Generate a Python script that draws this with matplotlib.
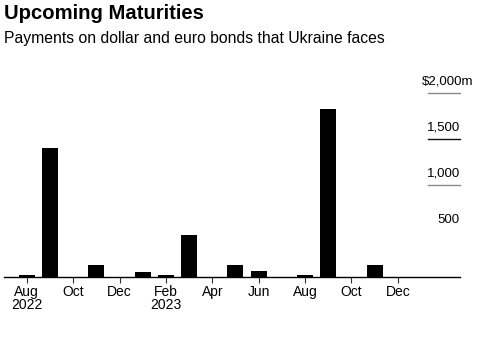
import matplotlib
matplotlib.use("Agg")
import matplotlib.pyplot as plt
import matplotlib.transforms as mtransforms

# monthly payments, Aug 2022 .. Dec 2023 ($m)
months = ["Aug 2022", "Sep 2022", "Oct 2022", "Nov 2022", "Dec 2022",
          "Jan 2023", "Feb 2023", "Mar 2023", "Apr 2023", "May 2023",
          "Jun 2023", "Jul 2023", "Aug 2023", "Sep 2023", "Oct 2023",
          "Nov 2023", "Dec 2023"]
payments = [25, 1400, 0, 130, 0, 50, 25, 460, 0, 130, 65, 0, 25, 1820, 0, 130, 0]

tick_pos = [0, 2, 4, 6, 8, 10, 12, 14, 16]
tick_labels = ["Aug\n2022", "Oct", "Dec", "Feb\n2023", "Apr", "Jun", "Aug", "Oct", "Dec"]
grid_vals = [1000, 1500, 2000]
grid_colors = ["#8a8a8a", "#111111", "#8a8a8a"]
ylabels = {500: "500", 1000: "1,000", 1500: "1,500"}

plt.rcParams["font.family"] = ["Liberation Sans", "DejaVu Sans"]

W, H = 498, 358
fig = plt.figure(figsize=(W / 100, H / 100), dpi=100)
# axes box in pixels: x 4..460, y 92.5..277
ax = fig.add_axes([4 / W, 1 - 277 / H, 456 / W, (277 - 92.5) / H])

x = list(range(len(months)))
ax.bar(x, payments, width=0.69, color="black", zorder=3)

ax.set_xlim(-0.98, 18.68)
ax.set_ylim(0, 2000)

for s in ["top", "right", "left"]:
    ax.spines[s].set_visible(False)
ax.spines["bottom"].set_color("black")
ax.spines["bottom"].set_linewidth(1.0)
ax.set_yticks([])

ax.set_xticks(tick_pos)
ax.set_xticklabels(tick_labels, fontsize=10, linespacing=0.95)
ax.tick_params(axis="x", length=4, width=0.8, color="#333333", pad=1.5)

# short gridlines and labels on the right
x0, x1 = 17.3, 18.68
for v, c in zip(grid_vals, grid_colors):
    ax.plot([x0, x1], [v, v], color=c, lw=1.0, clip_on=False, zorder=2)
for v, lab in ylabels.items():
    ax.text(x1, v + 55, lab, ha="right", va="bottom", fontsize=9.5, clip_on=False)
# top label sticks out past the gridline by the "m"
shift = mtransforms.ScaledTranslation(13 / 100, 0, fig.dpi_scale_trans)
ax.text(x1, 2055, "$2,000m", ha="right", va="bottom", fontsize=9.5,
        clip_on=False, transform=ax.transData + shift)

fig.text(4 / W, 1 - 4 / H, "Upcoming Maturities", ha="left", va="top",
         fontsize=14.6, fontweight="bold")
fig.text(4 / W, 1 - 31 / H, "Payments on dollar and euro bonds that Ukraine faces",
         ha="left", va="top", fontsize=11.3)

fig.savefig("out.png", dpi=100, facecolor="white")
